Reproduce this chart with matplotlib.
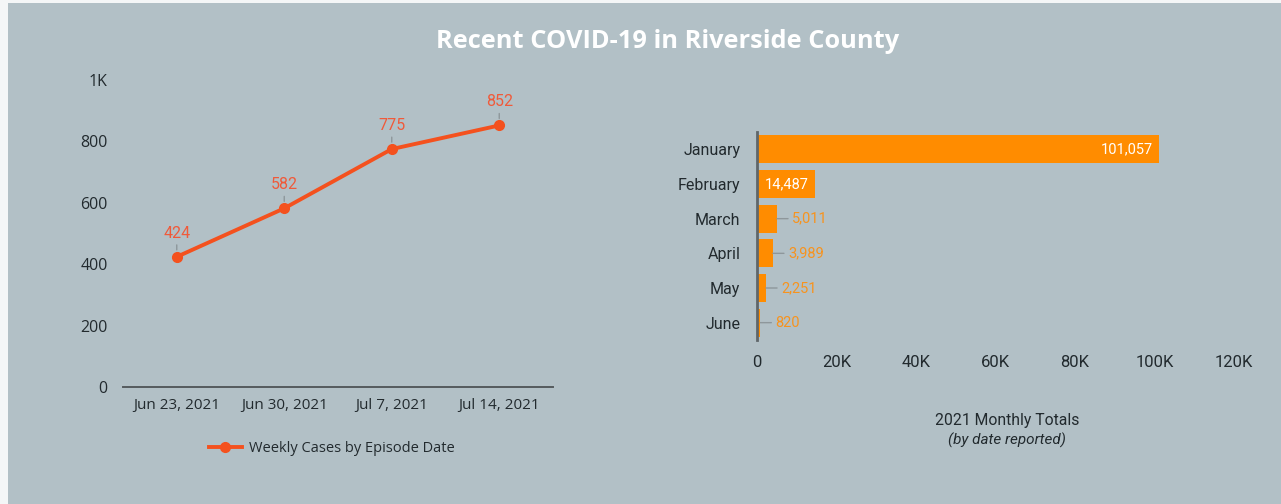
import matplotlib.pyplot as plt
from matplotlib.lines import Line2D

# data
weeks = ['Jun 23, 2021', 'Jun 30, 2021', 'Jul 7, 2021', 'Jul 14, 2021']
weekly_cases = [424, 582, 775, 852]

months = ['January', 'February', 'March', 'April', 'May', 'June']
monthly_totals = [101057, 14487, 5011, 3989, 2251, 820]

bg = '#b2c0c6'
line_color = '#f4511e'
bar_color = '#ff8c00'
leader = '#8e979b'
text_dark = '#222a2e'

fig = plt.figure(figsize=(12.81, 5.04), dpi=100)
fig.patch.set_facecolor(bg)
# white strips on left / top edge
fig.patches.append(plt.Rectangle((0, 0), 8 / 1281, 1, transform=fig.transFigure,
                                 facecolor='#f4f6f7', edgecolor='none', zorder=0))
fig.patches.append(plt.Rectangle((0, 1 - 3 / 504), 1, 3 / 504, transform=fig.transFigure,
                                 facecolor='#f4f6f7', edgecolor='none', zorder=0))

fig.text(668 / 1281, 1 - 41 / 504, 'Recent COVID-19 in Riverside County', color='white',
         fontsize=18.3, fontweight='bold', family='Open Sans', ha='center', va='center')

# 1. weekly line chart
ax1 = fig.add_axes([123 / 1281, 1 - 387 / 504, 430 / 1281, 307 / 504])
ax1.set_facecolor('none')
x = list(range(len(weeks)))
ax1.plot(x, weekly_cases, color=line_color, lw=2.8, marker='o', ms=7, clip_on=False)
ax1.set_xlim(-0.5, len(weeks) - 0.5)
ax1.set_ylim(0, 1000)
ax1.set_yticks([0, 200, 400, 600, 800, 1000])
ax1.set_yticklabels(['0', '200', '400', '600', '800', '1K'])
ax1.set_xticks(x)
ax1.set_xticklabels(weeks)
for s in ['top', 'right', 'left']:
    ax1.spines[s].set_visible(False)
ax1.spines['bottom'].set_color('#555b5e')
ax1.spines['bottom'].set_linewidth(1.4)
ax1.tick_params(axis='both', length=0, labelcolor=text_dark)
ax1.tick_params(axis='y', pad=11, labelsize=11.5)
ax1.tick_params(axis='x', pad=8, labelsize=11)
for lbl in ax1.get_xticklabels() + ax1.get_yticklabels():
    lbl.set_family('Open Sans')

for xi, v in zip(x, weekly_cases):
    ax1.annotate(f'{v}', xy=(xi, v), xytext=(0, 17), textcoords='offset points',
                 ha='center', va='center', color='#f05a3a', fontsize=11.5, family='Roboto',
                 arrowprops=dict(arrowstyle='-', color=leader, lw=1, shrinkA=1, shrinkB=5))

handle = Line2D([], [], color=line_color, lw=2.8, marker='o', ms=7)
fig.legend([handle], ['Weekly Cases by Episode Date'], loc='center',
           bbox_to_anchor=(332 / 1281, 1 - 449 / 504), frameon=False,
           prop={'family': 'Open Sans', 'size': 10.5}, handlelength=2.2, handletextpad=0.5,
           labelcolor=text_dark)

# 2. monthly bar chart
ax2 = fig.add_axes([757 / 1281, 1 - 340 / 504, 477 / 1281, 208 / 504])
ax2.set_facecolor('none')
y = list(range(len(months)))
ax2.barh(y, monthly_totals, height=0.8, color=bar_color)
ax2.set_ylim(len(months) - 0.5, -0.5)
ax2.set_xlim(0, 120000)
ax2.set_xticks([0, 20000, 40000, 60000, 80000, 100000, 120000])
ax2.set_xticklabels(['0', '20K', '40K', '60K', '80K', '100K', '120K'])
ax2.set_yticks(y)
ax2.set_yticklabels(months)
for s in ['top', 'right', 'bottom']:
    ax2.spines[s].set_visible(False)
ax2.spines['left'].set_color('#5f6669')
ax2.spines['left'].set_linewidth(2)
ax2.tick_params(axis='both', length=0, labelcolor=text_dark)
ax2.tick_params(axis='y', pad=12, labelsize=11.5)
ax2.tick_params(axis='x', pad=11, labelsize=12)
for lbl in ax2.get_xticklabels() + ax2.get_yticklabels():
    lbl.set_family('Roboto')

for yi, v in zip(y, monthly_totals):
    if v > 10000:
        ax2.annotate(f'{v:,}', xy=(v, yi), xytext=(-4, 0), textcoords='offset points',
                     ha='right', va='center', color='white', fontsize=10.5, family='Roboto')
    else:
        ax2.annotate(f'{v:,}', xy=(v, yi), xytext=(11, 0), textcoords='offset points',
                     ha='left', va='center', color='#f7931e', fontsize=10.5, family='Roboto',
                     arrowprops=dict(arrowstyle='-', color=leader, lw=1, shrinkA=1, shrinkB=0))

fig.text(1007 / 1281, 1 - 421 / 504, '2021 Monthly Totals', color=text_dark,
         fontsize=11.3, family='Roboto', ha='center', va='center')
fig.text(1007 / 1281, 1 - 440 / 504, '(by date reported)', color=text_dark,
         fontsize=11, family='Roboto', style='italic', ha='center', va='center')

plt.savefig('out.png', dpi=100, facecolor=fig.get_facecolor())
